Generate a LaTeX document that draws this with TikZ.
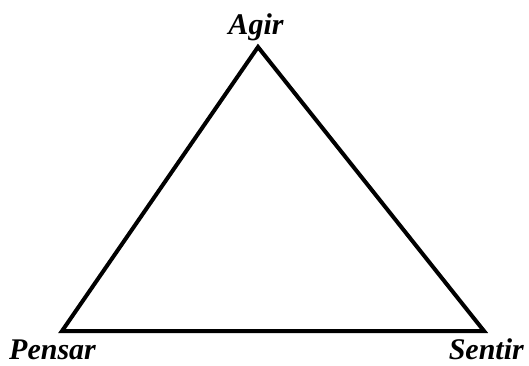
\documentclass[tikz,border=0pt]{standalone}
\usepackage{fontspec}
\setmainfont{Liberation Serif}
\usetikzlibrary{calc}

\tikzset{vertice/.style={font=\fontsize{30}{30}\selectfont\bfseries\itshape, inner sep=0pt}}

\begin{document}
\begin{tikzpicture}[x=1pt,y=-1pt]
\useasboundingbox (0,0) rectangle (529,365);
\coordinate (a) at (258,47);
\coordinate (p) at (62,331);
\coordinate (s) at (484,331);
\draw[line width=4pt, line join=miter] (a)--(s)--(p)--cycle;
\node[vertice, anchor=base] (agir) at (256,34) {Agir};
\node[vertice, anchor=base west] (pensar) at (9,359) {Pensar};
\node[vertice, anchor=base east] (sentir) at (524,359) {Sentir};
\end{tikzpicture}
\end{document}
